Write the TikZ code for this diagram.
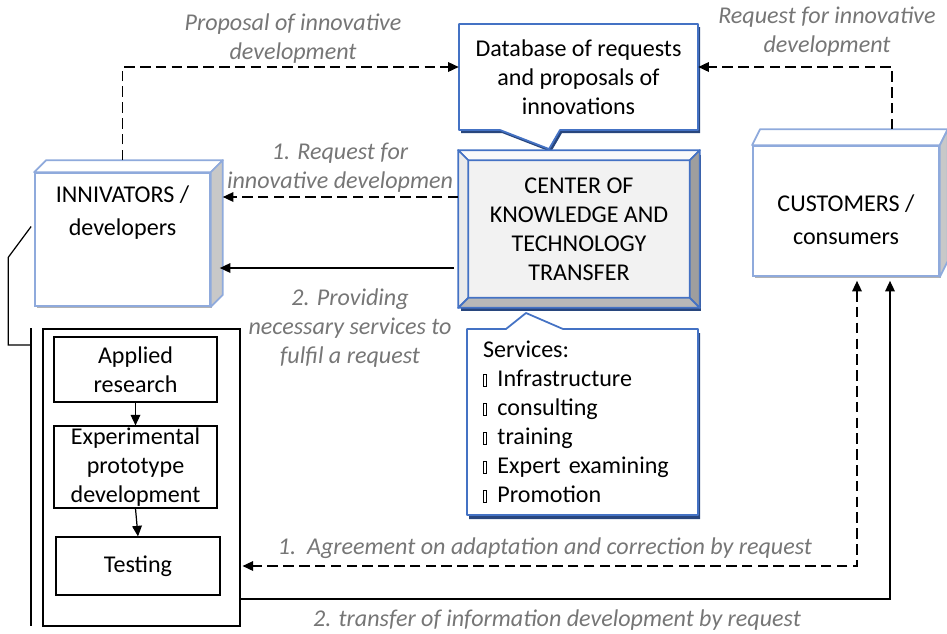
\documentclass[tikz,border=0pt]{standalone}
\usepackage{fontspec}
\setmainfont{Carlito}
\usetikzlibrary{arrows.meta, positioning, calc, shadows}
\definecolor{paleblue}{RGB}{143,170,220}
\definecolor{boxblue}{RGB}{68,114,196}
\definecolor{navyshade}{RGB}{40,70,125}
\definecolor{sidegrey}{RGB}{200,200,200}
\definecolor{facegrey}{RGB}{242,242,242}
\definecolor{labelgrey}{RGB}{118,118,118}
\newcommand{\tofu}{{\setlength{\fboxsep}{0pt}\setlength{\fboxrule}{0.35pt}\fbox{\rule{0pt}{0.5em}\hspace{0.1em}}}\hspace{0.45em}}

\begin{document}
\begin{tikzpicture}[
    x=0.02cm, y=-0.02cm,
    >={Triangle[length=6pt, width=5.5pt]},
    every node/.style={font=\fontsize{13.7}{16.5}\selectfont, align=center, inner sep=0pt},
    arrowline/.style={draw, line width=0.7pt, ->},
    dasharrow/.style={arrowline, dash pattern=on 6pt off 3pt},
    thinline/.style={draw, line width=0.7pt},
    flowlabel/.style={font=\fontsize{13.7}{16.5}\selectfont\itshape, text=labelgrey},
    cubeface/.style={draw=paleblue, line width=1pt, fill=white, font=\fontsize{13.7}{18.8}\selectfont,
        general shadow={shadow xshift=0.04cm, shadow yshift=-0.04cm, fill=black!30}},
    cubetop/.style={draw=paleblue, line width=1pt, fill=white, line join=round},
    cubeside/.style={draw=paleblue, line width=1pt, fill=sidegrey, line join=round},
    centerbox/.style={draw=boxblue, line width=1pt, fill=facegrey, minimum width=4.8cm, minimum height=3.12cm,
        general shadow={shadow xshift=0.04cm, shadow yshift=-0.08cm, fill=navyshade}},
    bevelside/.style={draw=boxblue, line width=1pt, line join=round},
    bubble/.style={draw=boxblue, line width=1pt, fill=white, line join=round},
    bubbleshade/.style={fill=navyshade},
    stagebox/.style={draw, line width=0.7pt, minimum width=3.26cm}
]
    \useasboundingbox (0,0) rectangle (947,633);

    % Database of requests (callout)
    \fill[bubbleshade, shift={(2,3)}] (459,24) -- (698,24) -- (698,130) -- (560,130) -- (549,149) -- (500,130) -- (459,130) -- cycle;
    \filldraw[bubble] (459,24) -- (698,24) -- (698,130) -- (560,130) -- (549,149) -- (500,130) -- (459,130) -- cycle;
    \node[minimum width=4.78cm, minimum height=2.12cm] (db) at (578.5,77) {Database of requests\\and proposals of\\innovations};

    % Center with bevelled frame
    \node[centerbox] (ckt) at (579,229) {CENTER OF\\KNOWLEDGE AND\\TECHNOLOGY\\TRANSFER};
    \filldraw[bevelside, fill=white!60!facegrey] (ckt.north west) -- (ckt.north east) -- ++(-10,10) -- ($(ckt.north west)+(10,10)$) -- cycle;
    \filldraw[bevelside, fill=black!8] (ckt.north west) -- ++(10,10) -- ($(ckt.south west)+(10,-10)$) -- (ckt.south west) -- cycle;
    \filldraw[bevelside, fill=black!38] (ckt.north east) -- ++(-10,10) -- ($(ckt.south east)+(-10,-10)$) -- (ckt.south east) -- cycle;
    \filldraw[bevelside, fill=black!28] (ckt.south west) -- ++(10,-10) -- ($(ckt.south east)+(-10,-10)$) -- (ckt.south east) -- cycle;

    % Services (callout)
    \fill[bubbleshade, shift={(2,4)}] (467,329) -- (506,329) -- (526,313) -- (563,329) -- (698,329) -- (698,515) -- (467,515) -- cycle;
    \filldraw[bubble] (467,329) -- (506,329) -- (526,313) -- (563,329) -- (698,329) -- (698,515) -- (467,515) -- cycle;
    \node[text width=3.98cm, align=left, minimum width=4.62cm, minimum height=3.72cm] (serv) at (582.5,422)
        {Services:\\\tofu Infrastructure\\\tofu consulting\\\tofu training\\\tofu Expert examining\\\tofu Promotion};

    % Innovators and customers as cubes
    \node[cubeface, minimum width=3.5cm, minimum height=2.66cm, text depth=1.17cm] (innov) at (122.5,239.5) {INNIVATORS /\\developers};
    \filldraw[cubetop] (innov.north west) -- ++(12,-12) -- ($(innov.north east)+(12,-12)$) -- (innov.north east) -- cycle;
    \filldraw[cubeside] (innov.north east) -- ++(12,-12) -- ($(innov.south east)+(12,-12)$) -- (innov.south east) -- cycle;
    \node[cubeface, minimum width=3.72cm, minimum height=2.6cm, text height=1.34cm] (cust) at (846,211) {CUSTOMERS /\\consumers};
    \filldraw[cubetop] (cust.north west) -- ++(8,-16) -- ($(cust.north east)+(8,-16)$) -- (cust.north east) -- cycle;
    \filldraw[cubeside] (cust.north east) -- ++(8,-16) -- ($(cust.south east)+(8,-16)$) -- (cust.south east) -- cycle;

    % Development stages
    \node[draw, line width=0.7pt, minimum width=3.94cm, minimum height=5.94cm] (proc) at (141.5,477.5) {};
    \node[stagebox, minimum height=1.3cm] (appl) at (135.5,369.5) {Applied\\research};
    \node[stagebox, minimum height=1.64cm] (expt) at (135.5,467) {Experimental\\prototype\\development};
    \node[stagebox, minimum width=3.28cm, minimum height=1.16cm] (test) at (138,566) {Testing};
    \draw[arrowline] (appl) -- (expt);
    \draw[arrowline] (expt.south) -- (test.north);

    % Bracket joining innovators to the stages
    \coordinate (brtop) at (31,328);
    \coordinate (brbot) at (31,626);
    \draw[thinline] (brtop) -- (brbot);
    \draw[thinline] ($(innov.west)+(-3,-13)$) -- ++(-23,31) |- ($(brtop)+(0,17)$);

    % Flows
    \draw[dasharrow] ($(innov.north)+(0,-12)$) |- ($(db.west)+(0,-10)$);
    \draw[dasharrow] ($(cust.north)+(46,-16)$) |- ($(db.east)+(0,-10)$);
    \coordinate (innovside) at ($(innov.east)+(12,0)$);
    \coordinate (reqin) at ($(ckt.west)+(0,-32)$);
    \coordinate (provin) at ($(ckt.west)+(-4,39)$);
    \draw[dasharrow] (reqin) -- (reqin -| innovside);
    \draw[arrowline] (provin) -- ($(provin -| innovside)+(-3,0)$);
    \coordinate (agree) at ($(proc.east)+(2,88.5)$);
    \coordinate (transfer) at ($(proc.east)+(0,121.5)$);
    \draw[dasharrow, <->] ($(cust.south)+(11,4)$) |- (agree);
    \draw[arrowline] (transfer) -| ($(cust.south)+(44,4)$);

    % Flow labels
    \node[flowlabel] (lblproposal) at (293,39) {Proposal of innovative\\development};
    \node[flowlabel] (lblrequest) at (827,32) {Request for innovative\\development};
    \node[flowlabel] (lblreqdev) at (340,168) {1. Request for\\innovative developmen};
    \node[flowlabel] (lblprovide) at (350,328) {2. Providing\\necessary services to\\fulfil a request};
    \node[flowlabel] (lblagree) at (545,548) {1.\ \ Agreement on adaptation and correction by request};
    \node[flowlabel] (lbltransfer) at (557,620) {2. transfer of information development by request};
\end{tikzpicture}
\end{document}
